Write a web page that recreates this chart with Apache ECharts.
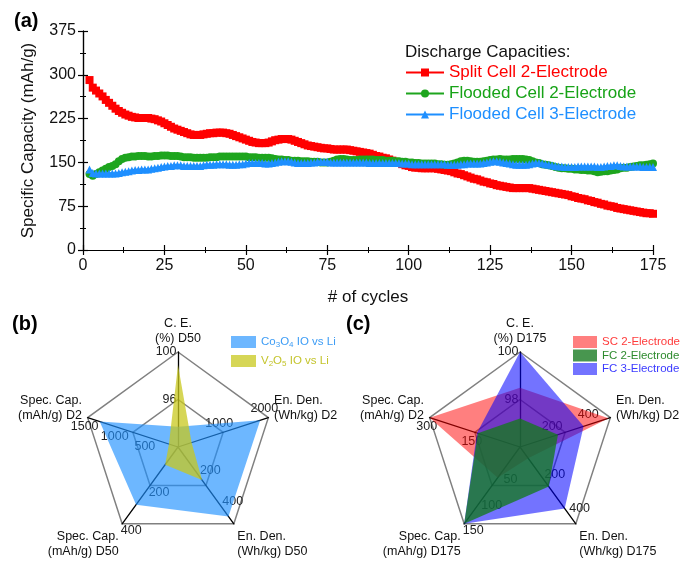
<!DOCTYPE html>
<html><head><meta charset="utf-8">
<script src="https://cdn.jsdelivr.net/npm/echarts@6/dist/echarts.min.js"></script>
<style>html,body{margin:0;padding:0;background:#fff}#main{width:681px;height:562px}</style>
</head><body><div id="main"></div>
<script>
const FONT = "'Liberation Sans', Arial, sans-serif";

// ---------- (a) cycling data ----------
const cycles = [2,3,4,5,6,7,8,9,10,11,12,13,14,15,16,17,18,19,20,21,22,23,24,25,26,27,28,29,30,31,32,33,34,35,36,37,38,39,40,41,42,43,44,45,46,47,48,49,50,51,52,53,54,55,56,57,58,59,60,61,62,63,64,65,66,67,68,69,70,71,72,73,74,75,76,77,78,79,80,81,82,83,84,85,86,87,88,89,90,91,92,93,94,95,96,97,98,99,100,101,102,103,104,105,106,107,108,109,110,111,112,113,114,115,116,117,118,119,120,121,122,123,124,125,126,127,128,129,130,131,132,133,134,135,136,137,138,139,140,141,142,143,144,145,146,147,148,149,150,151,152,153,154,155,156,157,158,159,160,161,162,163,164,165,166,167,168,169,170,171,172,173,174,175];
const splitCell2E = [291,278,273,268,263,257,252,247,242,238,
 235,232,230,228,227,226,226,226,226,225,
 224,222,220,217,214,211,208,206,204,202,
 200,198,197,197,197,198,199,200,200,201,
 201,201,200,199,197,195,193,191,189,187,
 185,184,183,183,183,184,186,188,189,190,
 190,190,189,187,185,183,181,179,178,177,
 176,175,174,174,173,172,172,172,172,172,
 171,170,169,168,167,166,165,163,161,160,
 158,157,155,153,151,149,147,145,144,142,
 141,141,140,140,140,140,140,139,138,137,
 136,135,133,131,130,128,126,124,122,121,
 119,117,116,114,113,111,110,109,108,107,
 106,106,106,106,106,106,105,104,103,102,
 101,100,99,98,97,96,95,94,92,91,
 89,88,87,85,84,82,81,79,78,76,
 75,74,72,71,70,69,68,67,66,65,
 64,63,63,62];
const flooded2E = [130,127,130,133,136,139,142,144,147,152,
 156,158,159,160,160,161,161,161,160,160,
 161,161,162,162,162,161,161,161,160,159,
 159,159,158,158,158,158,158,159,159,159,
 160,160,160,160,160,160,160,160,160,159,
 159,159,158,158,158,158,157,156,155,155,
 154,154,153,153,153,152,152,152,151,151,
 151,150,150,150,151,153,155,156,156,155,
 154,154,154,155,155,155,155,155,154,154,
 154,153,153,153,152,152,151,151,150,150,
 149,149,148,148,148,148,148,147,147,146,
 146,147,148,150,152,153,153,152,151,151,
 151,152,153,154,155,155,156,155,155,155,
 156,156,156,156,155,154,152,150,149,147,
 146,145,144,142,141,140,140,139,139,138,
 138,137,137,136,136,135,133,134,135,135,
 136,137,138,140,141,141,142,143,144,145,
 145,146,147,148];
const flooded3E = [138,132,131,131,131,131,131,131,131,132,
 133,134,135,136,137,137,138,138,138,139,
 140,141,142,143,144,144,145,145,145,144,
 144,144,144,144,144,145,146,146,146,147,
 147,147,147,146,146,146,147,147,148,149,
 149,149,149,149,148,148,149,150,151,152,
 152,152,151,150,149,149,149,149,150,150,
 151,151,151,151,150,150,150,150,150,150,
 150,150,150,150,150,150,149,149,149,149,
 149,149,149,149,149,149,148,148,148,147,
 147,147,147,147,147,147,147,147,147,147,
 146,146,146,146,147,147,148,148,148,148,
 148,149,150,151,152,152,151,150,149,148,
 147,146,146,146,146,147,148,149,149,148,
 147,146,145,144,143,143,142,142,142,142,
 143,143,143,143,143,143,142,142,143,144,
 144,145,145,144,143,143,143,143,143,143,
 142,142,142,142];
const seriesNamesA = ['Split Cell 2-Electrode','Flooded Cell 2-Electrode','Flooded Cell 3-Electrode'];

// ---------- (b) radar ----------
const radarBNames = ['C. E.\n(%) D50','Spec. Cap.\n(mAh/g) D2','Spec. Cap.\n(mAh/g) D50','En. Den.\n(Wh/kg) D50','En. Den.\n(Wh/kg) D2'];
const radarBMin = [92,0,0,0,0];
const radarBMax = [100,1500,400,500,2000];
const radarBTicks = [[96,100],[500,1000,1500],[200,400],[200,400],[1000,2000]];
const co3o4 = [93.7,1300,300,452,1820];
const v2o5 = [98.9,150,92,215,300];

// ---------- (c) radar ----------
const radarCNames = ['C. E.\n(%) D175','Spec. Cap.\n(mAh/g) D2','Spec. Cap.\n(mAh/g) D175','En. Den.\n(Wh/kg) D175','En. Den.\n(Wh/kg) D2'];
const radarCMin = [96,0,0,0,0];
const radarCMax = [100,300,150,450,500];
const radarCTicks = [[98,100],[150,300],[50,100,150],[200,400],[200,400]];
const sc2E = [98.5,300,60,66,490];
const fc2E = [97.2,140,150,232,210];
const fc3E = [100,143,150,360,352];

// ---------- build ----------
const pairs = ys => cycles.map((c, i) => [c, ys[i]]);
const labelOffsets = [[0,0],[-3,9],[9,7],[10,-7],[-4,-9]];

function tickLabelSeries(radarIndex, mins, ticks) {
  return ticks.map((list, k) => ({
    type: 'radar', radarIndex: radarIndex, z: 1, silent: true,
    symbol: 'circle', symbolSize: 1,
    itemStyle: {color: 'rgba(0,0,0,0)'},
    lineStyle: {width: 0, opacity: 0},
    label: {
      show: true,
      position: k === 0 ? 'left' : 'inside',
      distance: 1,
      offset: labelOffsets[k],
      color: '#222', fontSize: 12.5, fontFamily: FONT,
      formatter: p => (p.dimensionIndex === k ? String(p.value) : '')
    },
    data: list.map(v => ({value: mins.map((m, i) => (i === k ? v : m))}))
  }));
}

function radarComp(center, names, mins, maxs) {
  return {
    center: center, radius: 95, startAngle: 90, splitNumber: 2, shape: 'polygon', z: 0,
    indicator: names.map((n, i) => ({
      // blank lines nudge the side names vertically (upper ones up, lower ones down)
      name: (i === 2 || i === 3) ? '\n\n' + n : (i === 1 || i === 4) ? n + '\n' : n,
      min: mins[i], max: maxs[i]
    })),
    nameGap: 6,
    axisName: {color: '#111', fontSize: 12.5, fontFamily: FONT, lineHeight: 15},
    axisLine: {lineStyle: {color: '#000', width: 1.3}},
    splitLine: {lineStyle: {color: '#808080', width: 1.5}},
    splitArea: {show: false},
    axisTick: {show: false},
    axisLabel: {show: false}
  };
}

const axisCommon = {
  axisLine: {show: true, lineStyle: {color: '#000', width: 1.2}},
  axisTick: {show: true, length: 5, lineStyle: {color: '#000', width: 1.2}},
  minorTick: {show: true, splitNumber: 2, length: 3, lineStyle: {color: '#000', width: 1}},
  splitLine: {show: false}
};

const cB = {b: '#3d9cf5', y: '#c4c42c'};
const option = {
  animation: false,
  backgroundColor: '#fff',
  title: [
    {text: '(a)', left: 14, top: 11, padding: 0, textStyle: {fontSize: 20, fontWeight: 'bold', color: '#000', fontFamily: FONT}},
    {text: '(b)', left: 12, top: 314, padding: 0, textStyle: {fontSize: 20, fontWeight: 'bold', color: '#000', fontFamily: FONT}},
    {text: '(c)', left: 346, top: 314, padding: 0, textStyle: {fontSize: 20, fontWeight: 'bold', color: '#000', fontFamily: FONT}},
    {text: 'Discharge Capacities:', left: 405, top: 44, padding: 0, textStyle: {fontSize: 17, fontWeight: 'normal', color: '#111', fontFamily: FONT}}
  ],
  legend: [
    {
      left: 405, top: 64, orient: 'vertical', padding: 0, itemWidth: 38, itemHeight: 10, itemGap: 4,
      textStyle: {fontSize: 17, fontFamily: FONT, lineHeight: 17},
      data: [
        {name: seriesNamesA[0], textStyle: {color: '#ff0000'}},
        {name: seriesNamesA[1], textStyle: {color: '#17a317'}},
        {name: seriesNamesA[2], textStyle: {color: '#1e8fff'}}
      ]
    },
    {
      left: 231, top: 336, orient: 'vertical', padding: 0, icon: 'rect', itemWidth: 25, itemHeight: 12, itemGap: 6,
      itemStyle: {borderWidth: 0},
      formatter: n => n === 'Co3O4 IO vs Li'
        ? '{b|Co}{bs|3}{b|O}{bs|4}{b| IO vs Li}'
        : '{y|V}{ys|2}{y|O}{ys|5}{y| IO vs Li}',
      textStyle: {
        fontFamily: FONT, fontSize: 11.5,
        rich: {
          b: {color: cB.b, fontSize: 11.5, lineHeight: 14, fontFamily: FONT},
          bs: {color: cB.b, fontSize: 8, lineHeight: 6, verticalAlign: 'bottom', fontFamily: FONT},
          y: {color: cB.y, fontSize: 11.5, lineHeight: 14, fontFamily: FONT},
          ys: {color: cB.y, fontSize: 8, lineHeight: 6, verticalAlign: 'bottom', fontFamily: FONT}
        }
      },
      data: ['Co3O4 IO vs Li', 'V2O5 IO vs Li']
    },
    {
      left: 573, top: 336, orient: 'vertical', padding: 0, icon: 'rect', itemWidth: 24, itemHeight: 12, itemGap: 1.5,
      itemStyle: {borderWidth: 0},
      textStyle: {fontFamily: FONT, fontSize: 11.5},
      data: [
        {name: 'SC 2-Electrode', textStyle: {color: '#ff3b3b'}},
        {name: 'FC 2-Electrode', textStyle: {color: '#2e8b2e'}},
        {name: 'FC 3-Electrode', textStyle: {color: '#3a3aff'}}
      ]
    }
  ],
  grid: {left: 83, top: 31, width: 570, height: 219},
  xAxis: [
    Object.assign({}, axisCommon, {
      type: 'value', min: 0, max: 175, interval: 25, position: 'bottom',
      axisLabel: {fontSize: 16, margin: 8, color: '#111', fontFamily: FONT},
      name: '# of cycles', nameLocation: 'middle', nameGap: 39,
      nameTextStyle: {fontSize: 17, color: '#111', fontFamily: FONT}
    }),
    Object.assign({}, axisCommon, {
      type: 'value', min: 0, max: 175, interval: 25, position: 'top',
      axisLabel: {show: false}
    })
  ],
  yAxis: [
    Object.assign({}, axisCommon, {
      type: 'value', min: 0, max: 375, interval: 75, position: 'left',
      axisLabel: {fontSize: 16, margin: 7, color: '#111', fontFamily: FONT},
      name: 'Specific Capacity (mAh/g)', nameLocation: 'middle', nameGap: 46,
      nameTextStyle: {fontSize: 17, color: '#111', fontFamily: FONT}
    }),
    Object.assign({}, axisCommon, {
      type: 'value', min: 0, max: 375, interval: 75, position: 'right',
      axisLabel: {show: false}
    })
  ],
  radar: [
    radarComp([178, 447], radarBNames, radarBMin, radarBMax),
    radarComp([520, 447], radarCNames, radarCMin, radarCMax)
  ],
  series: [
    {name: seriesNamesA[0], type: 'line', data: pairs(splitCell2E), symbol: 'rect', symbolSize: 8, showAllSymbol: true,
     color: '#ff0000', lineStyle: {width: 2.5, color: '#ff0000'}, itemStyle: {color: '#ff0000'}},
    {name: seriesNamesA[1], type: 'line', data: pairs(flooded2E), symbol: 'circle', symbolSize: 8, showAllSymbol: true,
     color: '#1ea51e', lineStyle: {width: 2.5, color: '#1ea51e'}, itemStyle: {color: '#1ea51e'}},
    {name: seriesNamesA[2], type: 'line', data: pairs(flooded3E), symbol: 'triangle', symbolSize: 8, showAllSymbol: true,
     color: '#1e8fff', lineStyle: {width: 2.5, color: '#1e8fff'}, itemStyle: {color: '#1e8fff'}},
    ...tickLabelSeries(0, radarBMin, radarBTicks),
    ...tickLabelSeries(1, radarCMin, radarCTicks),
    {
      type: 'radar', radarIndex: 0, z: 2, symbol: 'none', silent: true, lineStyle: {width: 0},
      data: [
        {name: 'Co3O4 IO vs Li', value: co3o4, itemStyle: {color: 'rgba(30,144,255,0.65)'}, areaStyle: {color: 'rgba(30,144,255,0.65)', opacity: 1}},
        {name: 'V2O5 IO vs Li', value: v2o5, itemStyle: {color: 'rgba(200,200,30,0.75)'}, areaStyle: {color: 'rgba(200,200,30,0.75)', opacity: 1}}
      ]
    },
    {
      type: 'radar', radarIndex: 1, z: 2, symbol: 'none', silent: true, lineStyle: {width: 0},
      data: [
        {name: 'SC 2-Electrode', value: sc2E, itemStyle: {color: 'rgba(255,0,0,0.5)'}, areaStyle: {color: 'rgba(255,0,0,0.5)', opacity: 1}},
        {name: 'FC 3-Electrode', value: fc3E, itemStyle: {color: 'rgba(0,0,255,0.55)'}, areaStyle: {color: 'rgba(0,0,255,0.55)', opacity: 1}},
        {name: 'FC 2-Electrode', value: fc2E, itemStyle: {color: 'rgba(20,120,30,0.78)'}, areaStyle: {color: 'rgba(20,120,30,0.78)', opacity: 1}}
      ]
    }
  ]
};

const chart = echarts.init(document.getElementById('main'), null, {renderer: 'canvas'});
chart.setOption(option);
</script>
</body></html>
